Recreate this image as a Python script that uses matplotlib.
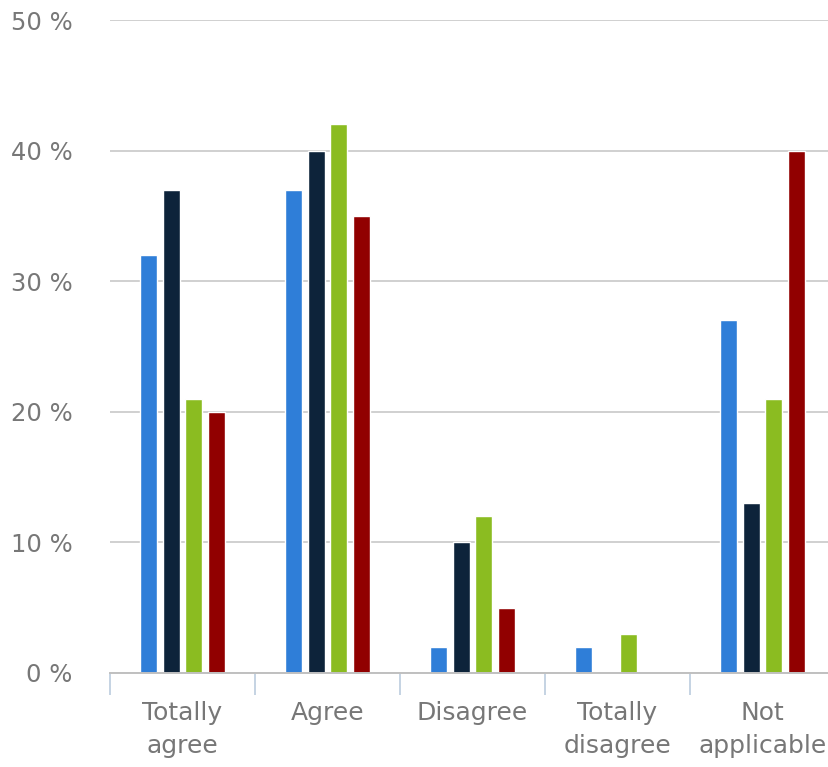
import matplotlib.pyplot as plt
import numpy as np

categories = ["Totally\nagree", "Agree", "Disagree", "Totally\ndisagree", "Not\napplicable"]
series_a = [32, 37, 2, 2, 27]
series_b = [37, 40, 10, 0, 13]
series_c = [21, 42, 12, 3, 21]
series_d = [20, 35, 5, 0, 40]
colors = ["#2f7ed8", "#0d233a", "#8bbc21", "#910000"]
yticks = [0, 10, 20, 30, 40, 50]

W, H = 829, 767
fig = plt.figure(figsize=(W / 100, H / 100), dpi=100)
left, right, bottom, top = 110, 835, 673, 20
ax = fig.add_axes([left / W, (H - bottom) / H, (right - left) / W, (bottom - top) / H])

x = np.arange(len(categories))
step, width = 0.155, 0.12
for i, (vals, c) in enumerate(zip([series_a, series_b, series_c, series_d], colors)):
    ax.bar(x + (i - 1.5) * step, vals, width=width, color=c,
           edgecolor="white", linewidth=1.0, zorder=3)

ax.set_xlim(-0.5, len(categories) - 0.5)
ax.set_ylim(0, 50)
ax.set_yticks(yticks)
ax.set_yticklabels([f"{v} %" for v in yticks])
ax.yaxis.grid(True, color="#d0d0d0", linewidth=1.4, zorder=0)
ax.set_axisbelow(True)

for s in ["top", "right", "left"]:
    ax.spines[s].set_visible(False)
ax.spines["bottom"].set_color("#c0c0c0")
ax.spines["bottom"].set_linewidth(1.4)
ax.spines["bottom"].set_zorder(4)

ax.tick_params(axis="y", length=0, pad=27, labelsize=17.5, labelcolor="#777777")

# category boundaries as ticks, labels at centers
ax.set_xticks(np.arange(-0.5, len(categories), 1.0))
ax.set_xticklabels([])
ax.tick_params(axis="x", which="major", length=16, color="#c0d0e0", width=1.3)
ax.set_xticks(x, minor=True)
ax.set_xticklabels(categories, minor=True, fontsize=18, color="#777777",
                   linespacing=1.5)
ax.tick_params(axis="x", which="minor", length=0, pad=20)

fig.savefig("out.png", dpi=100)
